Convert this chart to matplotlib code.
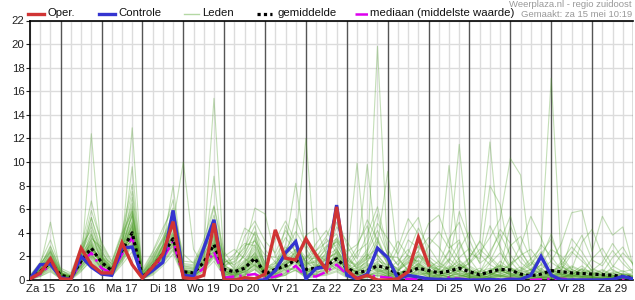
import matplotlib
matplotlib.use('Agg')
import matplotlib.pyplot as plt
from matplotlib.lines import Line2D

plt.rcParams['font.family'] = ['Liberation Sans', 'DejaVu Sans']

# forecast hours since Za 15 00:00, every 6 hours
hours = list(range(6, 361, 6))

day_labels = ['Za 15', 'Zo 16', 'Ma 17', 'Di 18', 'Wo 19', 'Do 20', 'Vr 21', 'Za 22',
              'Zo 23', 'Ma 24', 'Di 25', 'Wo 26', 'Do 27', 'Vr 28', 'Za 29']

# operational run (only 10 days)
oper = [0.1, 0.6, 1.8, 0.1, 0.05, 2.7, 1.3, 0.6, 0.6, 3.15, 1.3, 0.15,
        1.1, 2.2, 4.95, 0.2, 0.1, 0.4, 4.8, 0.0, 0.0, 0.2, 0.1, 0.5,
        4.25, 1.85, 1.7, 3.5, 2.1, 0.85, 6.2, 0.85, 0.1, 0.4, 0.0, 0.0,
        0.1, 0.7, 3.6, 1.27]

# control run
controle = [0.1, 1.3, 1.35, 0.2, 0.05, 2.0, 1.1, 0.5, 0.4, 2.7, 2.8, 0.2,
            0.8, 1.5, 5.9, 0.4, 0.3, 2.7, 5.1, 0.0, 0.0, 0.0, 0.0, 0.0,
            0.8, 2.3, 3.25, 0.1, 1.0, 1.1, 6.35, 0.4, 0.1, 0.5, 2.7, 1.9,
            0.1, 0.4, 0.25, 0.1, 0.05, 0.05, 0.05, 0.0, 0.0, 0.05, 0.0, 0.05,
            0.05, 0.4, 2.0, 0.4, 0.0, 0.0, 0.0, 0.0, 0.0, 0.05, 0.3, 0.1]

gemiddelde = [0.1, 0.7, 1.5, 0.4, 0.2, 1.6, 2.7, 1.5, 0.8, 2.5, 4.0, 0.2,
              1.1, 2.2, 3.5, 0.7, 0.6, 1.5, 3.0, 0.9, 0.7, 1.0, 1.85, 0.5,
              0.9, 1.2, 1.7, 0.9, 1.0, 1.2, 1.8, 1.0, 0.6, 0.8, 1.2, 1.0,
              0.5, 0.7, 1.0, 0.8, 0.6, 0.75, 1.0, 0.7, 0.45, 0.7, 0.9, 0.85,
              0.5, 0.35, 0.5, 0.8, 0.7, 0.6, 0.55, 0.5, 0.45, 0.4, 0.3, 0.2]

mediaan = [0.1, 0.5, 1.3, 0.3, 0.1, 1.5, 2.3, 1.0, 0.6, 2.2, 3.6, 0.2,
           0.9, 1.8, 3.3, 0.3, 0.3, 1.0, 2.4, 0.2, 0.3, 0.4, 0.5, 0.1,
           0.3, 0.6, 1.2, 0.3, 0.3, 0.7, 1.3, 0.5, 0.2, 0.4, 0.3, 0.2,
           0.1, 0.1, 0.1, 0.05, 0.05, 0.2, 0.1, 0.05, 0.0, 0.05, 0.05, 0.1,
           0.05, 0.0, 0.05, 0.1, 0.1, 0.05, 0.0, 0.0, 0.0, 0.05, 0.0, 0.0]

# ensemble members (Leden)
leden = [
    [0.1,0.9,1.8,0.3, 0.1,1.2,12.4,2.0, 0.5,2.2,3.5,0.1, 0.8,2.0,3.0,0.4, 0.3,1.2,2.5,0.6, 0.2,0.8,1.5,0.2, 0.5,0.8,1.0,0.3, 0.6,0.9,1.5,0.4, 0.2,0.3,0.8,0.5, 0.1,0.4,0.9,0.6, 0.2,0.3,0.5,0.2, 0.1,0.4,0.8,0.5, 0.3,0.2,0.1,0.3, 0.6,0.4,0.2,0.1, 0.2,0.3,0.1,0.1],
    [0.2,0.6,1.4,0.5, 0.2,2.0,3.1,1.2, 0.9,3.0,12.9,0.3, 1.5,2.4,3.8,0.8, 0.5,1.8,2.9,0.4, 0.3,0.5,1.1,0.2, 0.1,0.6,1.8,0.7, 0.9,1.4,2.1,0.9, 0.3,0.5,1.2,0.8, 0.2,0.7,1.4,0.5, 0.1,0.9,0.4,0.2, 0.3,0.2,1.1,0.6, 0.4,0.1,0.2,0.5, 1.2,0.6,0.3,0.1, 0.0,0.2,0.4,0.2],
    [0.1,1.2,4.9,0.6, 0.3,1.4,2.8,1.6, 0.7,2.6,9.6,0.2, 0.9,1.8,4.2,0.5, 0.7,1.0,3.4,1.2, 1.5,2.5,6.1,5.6, 2.0,1.1,0.8,0.4, 1.1,2.4,3.0,1.5, 0.5,0.2,0.4,0.3, 0.8,1.5,0.9,0.4, 0.2,0.1,0.3,0.6, 1.0,0.5,0.3,0.2, 0.1,0.4,0.8,0.3, 0.2,0.5,0.9,0.3, 0.1,0.1,0.2,0.3],
    [0.0,0.5,1.1,0.2, 0.1,1.8,2.4,1.0, 0.6,2.9,4.6,0.4, 1.3,2.8,8.0,0.9, 0.4,1.5,3.2,0.7, 0.5,0.9,2.4,0.6, 1.2,1.9,2.6,1.0, 0.7,0.8,1.6,0.6, 1.4,2.2,1.0,0.4, 0.3,0.6,2.1,1.4, 0.8,0.5,1.2,0.9, 0.3,1.4,2.3,1.1, 0.4,0.9,0.5,0.2, 0.6,1.1,0.7,0.4, 0.3,0.6,0.2,0.1],
    [0.3,0.4,0.9,0.1, 0.0,1.0,2.2,0.9, 0.4,1.9,3.8,0.6, 2.1,3.4,4.8,10.0, 2.6,1.2,2.1,0.3, 0.1,0.4,0.9,0.1, 0.6,1.5,2.2,0.5, 0.4,0.6,1.0,0.3, 0.2,0.9,2.6,1.6, 0.9,0.3,0.2,0.1, 0.4,1.6,3.2,1.1, 0.5,0.2,0.6,1.4, 2.0,0.8,0.3,0.1, 0.2,0.4,1.0,0.6, 0.5,0.2,0.1,0.0],
    [0.1,0.7,2.2,0.4, 0.2,1.5,2.6,1.8, 1.0,2.3,5.1,0.1, 0.6,2.5,3.1,0.5, 0.8,2.6,15.4,1.3, 0.6,0.3,1.8,0.9, 1.6,2.8,2.0,1.2, 2.2,1.6,0.9,0.6, 0.4,0.6,0.3,0.2, 0.1,0.2,0.6,0.5, 0.9,1.8,1.0,0.3, 0.2,0.6,0.3,0.2, 0.7,1.3,2.4,0.9, 0.5,0.3,0.2,0.4, 0.8,0.4,0.2,0.1],
    [0.2,1.0,1.6,0.3, 0.4,2.4,4.0,1.4, 0.8,3.3,6.0,0.3, 1.0,1.6,3.9,0.6, 0.9,2.0,8.8,0.8, 0.3,1.4,2.6,0.4, 0.2,0.4,1.3,1.9, 1.8,0.7,2.5,1.2, 0.6,1.3,0.7,0.9, 1.6,2.6,1.2,0.5, 0.3,0.5,0.9,0.4, 0.1,0.3,0.5,0.8, 0.6,0.3,0.1,0.5, 1.4,0.7,0.5,0.3, 0.1,0.2,0.4,0.6],
    [0.1,0.8,1.3,0.5, 0.3,1.9,5.3,2.2, 0.6,2.1,4.4,0.2, 1.1,2.2,2.8,0.7, 0.6,1.6,2.7,0.5, 0.4,0.7,1.2,0.3, 0.8,2.1,3.5,12.0, 1.3,0.9,1.8,1.1, 0.7,0.4,0.6,0.3, 0.2,0.5,1.1,0.7, 0.4,0.3,0.8,0.5, 0.2,0.1,0.4,0.3, 0.2,0.6,1.0,0.4, 0.3,0.2,0.5,0.8, 0.4,0.1,0.3,0.2],
    [0.2,0.6,2.0,0.7, 0.1,1.6,3.3,1.1, 0.5,2.8,5.5,0.3, 1.4,2.6,4.5,0.9, 0.2,1.1,3.8,1.0, 0.8,1.2,2.0,0.7, 1.0,3.0,8.2,2.3, 0.9,1.3,2.8,0.7, 0.4,0.8,1.5,0.6, 0.3,1.2,0.8,0.2, 0.5,0.2,0.1,0.4, 0.8,0.5,1.6,0.9, 0.3,0.2,0.6,0.9, 0.4,0.2,0.1,0.3, 0.5,0.9,0.4,0.2],
    [0.1,0.5,1.5,0.4, 0.2,1.3,2.1,1.3, 0.7,2.0,3.6,0.2, 0.7,1.9,3.4,0.6, 0.4,0.9,2.2,0.8, 0.6,1.6,2.2,0.4, 0.3,1.0,1.6,0.8, 1.2,2.0,3.6,1.5, 9.9,1.2,0.8,0.3, 0.6,0.9,2.0,1.3, 0.7,0.4,0.2,0.6, 0.3,0.8,1.2,0.5, 0.2,0.1,0.4,0.6, 0.9,0.5,0.3,0.2, 0.1,0.3,0.5,0.4],
    [0.3,0.8,1.7,0.2, 0.1,1.7,2.9,1.5, 0.9,2.5,4.2,0.1, 1.2,2.3,3.7,0.4, 0.5,1.4,3.0,1.1, 0.9,0.6,1.4,0.5, 0.7,1.3,2.4,1.6, 0.8,1.9,2.2,0.9, 2.1,9.8,1.9,0.7, 0.5,0.3,0.9,0.8, 0.6,1.1,0.7,0.3, 0.4,0.2,0.3,0.7, 1.1,0.6,0.2,0.1, 0.3,0.8,0.6,0.2, 0.2,0.4,0.3,0.1],
    [0.0,0.4,1.2,0.3, 0.2,1.1,2.5,1.7, 0.6,2.4,3.9,0.4, 1.0,2.0,3.3,0.8, 0.7,1.3,2.6,0.9, 0.4,1.0,1.6,0.6, 0.5,0.9,1.9,0.6, 1.0,1.7,2.4,1.2, 0.6,1.9,19.8,2.1, 0.4,0.6,1.3,0.9, 0.3,0.7,1.4,0.8, 0.5,0.6,0.9,0.4, 0.2,0.3,0.2,0.4, 0.7,0.4,0.3,0.5, 0.3,0.1,0.2,0.1],
    [0.2,0.9,1.9,0.5, 0.3,1.4,2.7,1.2, 0.8,2.2,4.8,0.2, 0.9,2.7,3.6,0.7, 0.6,1.9,3.5,0.6, 0.5,1.1,2.0,0.4, 0.9,1.4,1.7,0.5, 0.5,1.2,2.0,0.8, 1.0,1.5,3.0,9.2, 1.8,0.8,0.4,0.6, 1.2,0.9,0.5,0.2, 0.1,0.4,0.7,1.0, 0.5,0.3,0.8,0.4, 0.2,0.6,1.2,0.5, 0.4,0.2,0.1,0.2],
    [0.1,0.6,1.6,0.4, 0.2,1.5,2.3,1.6, 0.7,2.7,3.3,0.3, 1.1,2.1,3.2,0.5, 0.3,1.7,2.4,0.7, 0.6,0.8,1.7,0.5, 0.4,1.2,2.1,0.9, 1.3,0.8,1.4,0.7, 0.8,1.4,1.1,0.5, 0.7,1.8,1.6,1.0, 1.6,9.7,1.4,0.6, 0.3,0.9,0.6,0.3, 0.8,1.5,0.7,0.3, 0.2,0.3,0.6,0.9, 0.6,0.4,0.2,0.1],
    [0.2,0.7,1.4,0.6, 0.1,1.8,3.0,1.4, 1.1,2.9,4.5,0.4, 1.3,2.4,3.5,0.7, 0.5,1.2,3.1,1.0, 0.7,1.3,2.3,0.7, 0.6,1.7,1.5,0.7, 1.0,1.5,1.9,1.0, 0.7,1.0,1.6,1.3, 0.5,1.0,2.2,1.5, 0.9,2.4,11.5,1.8, 0.6,0.4,1.0,0.6, 0.3,0.7,1.3,0.5, 0.4,0.9,0.5,0.3, 0.2,0.5,0.8,0.3],
    [0.1,0.5,1.3,0.3, 0.2,1.6,2.6,1.3, 0.6,2.2,4.1,0.2, 0.8,2.0,3.1,0.6, 0.6,1.4,2.8,0.8, 0.3,0.9,1.9,0.3, 0.7,1.1,1.4,0.6, 0.9,1.0,1.7,0.9, 0.6,0.8,1.4,1.0, 0.4,0.9,1.7,1.2, 0.6,0.5,1.1,1.9, 3.2,11.7,2.5,0.9, 0.4,0.6,0.3,0.2, 0.5,0.3,0.7,0.4, 0.3,0.6,0.4,0.2],
    [0.3,1.1,2.3,0.5, 0.2,2.2,3.4,1.9, 1.2,3.1,4.9,0.3, 1.6,2.9,4.0,0.9, 0.7,2.2,3.6,1.2, 0.8,1.5,2.8,0.8, 1.1,1.8,2.3,1.1, 1.4,2.1,2.6,1.3, 0.8,1.1,0.9,0.5, 0.3,0.7,1.0,0.6, 0.4,0.8,1.9,2.7, 1.5,8.0,6.4,1.6, 0.6,0.3,0.5,0.8, 1.1,0.6,0.4,0.2, 0.1,0.3,0.6,0.4],
    [0.2,0.8,1.5,0.4, 0.3,1.2,2.0,1.1, 0.5,1.8,3.1,0.2, 0.9,1.7,2.9,0.5, 0.4,1.1,2.3,0.6, 0.5,0.7,1.3,0.4, 0.8,1.6,1.8,0.5, 0.7,1.4,1.9,0.8, 0.5,0.9,1.3,0.7, 0.6,0.4,0.8,0.5, 0.7,1.2,0.9,1.4, 2.3,3.6,5.2,10.3, 8.9,1.6,0.7,0.3, 0.2,0.5,0.9,0.6, 0.4,0.2,0.3,0.1],
    [0.1,0.6,1.7,0.5, 0.1,1.4,2.8,1.5, 0.8,2.6,3.7,0.3, 1.0,2.3,3.3,0.6, 0.5,1.6,2.9,0.7, 0.4,1.0,1.8,0.5, 0.6,1.2,1.9,0.8, 1.1,1.3,1.6,0.7, 0.4,0.7,1.0,0.6, 0.3,0.5,1.2,0.8, 0.5,0.3,0.6,0.4, 0.7,1.0,0.8,0.5, 0.9,1.8,2.7,17.1, 1.2,0.6,0.4,0.3, 0.2,0.4,0.3,0.2],
    [0.2,0.9,2.1,0.6, 0.2,1.7,3.2,1.8, 0.9,2.8,4.3,0.4, 1.2,2.5,3.9,0.8, 0.6,1.8,3.3,0.9, 0.7,1.2,2.1,0.6, 0.9,1.5,2.0,0.9, 1.0,1.8,2.3,1.0, 0.7,1.2,1.8,0.9, 0.5,0.8,1.4,0.9, 0.6,0.9,1.3,0.8, 0.5,0.7,1.2,1.0, 0.8,0.5,0.9,1.6, 3.1,5.7,5.9,2.4, 5.4,3.8,4.5,1.2],
    [0.0,0.3,0.8,0.1, 0.0,0.7,1.8,0.6, 0.3,1.5,2.9,0.1, 0.5,1.4,2.5,0.3, 0.2,0.8,1.9,0.3, 0.1,0.2,0.6,0.1, 0.2,0.4,0.9,0.2, 0.3,0.5,0.8,0.3, 0.1,0.2,0.5,0.2, 0.1,0.1,0.3,0.2, 0.0,0.1,0.2,0.1, 0.0,0.1,0.3,0.2, 0.1,0.0,0.1,0.2, 0.3,0.1,0.0,0.1, 0.0,0.1,0.0,0.0],
    [0.4,1.3,2.6,0.8, 0.5,2.5,4.5,2.3, 1.3,3.4,6.2,0.5, 1.8,3.2,4.6,1.0, 1.0,2.4,4.2,1.4, 2.2,3.1,2.9,1.1, 1.4,2.6,3.1,1.5, 2.5,3.2,3.9,1.7, 1.3,2.0,2.7,1.4, 1.0,1.9,2.4,1.2, 0.9,0.6,0.4,0.3, 0.2,0.4,0.9,1.2, 2.1,2.6,1.4,0.7, 0.5,0.3,0.2,0.5, 0.9,0.4,0.2,0.3],
    [0.1,0.4,1.0,0.2, 0.1,1.0,1.9,0.8, 0.4,1.6,3.0,0.1, 0.6,1.5,2.6,0.4, 0.3,0.9,2.0,0.4, 0.2,0.5,1.0,0.2, 0.3,0.6,1.1,0.3, 0.4,0.7,1.1,0.4, 0.2,0.3,0.6,0.3, 0.1,0.3,0.5,0.3, 0.1,0.2,0.4,0.2, 0.1,0.2,0.4,0.3, 0.2,0.1,0.2,0.3, 0.4,0.2,0.1,0.1, 0.1,0.2,0.1,0.1],
    [0.2,1.1,2.8,0.9, 0.3,2.7,6.7,3.0, 1.5,3.8,7.5,0.6, 2.0,3.6,5.6,1.2, 1.1,2.9,5.0,1.6, 1.3,2.0,3.4,0.9, 0.5,1.1,2.6,1.3, 1.7,2.6,4.9,2.0, 0.9,1.6,3.3,1.7, 0.8,1.4,2.9,1.6, 1.1,2.5,1.2,0.5, 0.3,0.6,0.4,0.2, 0.1,0.3,0.2,0.1, 0.2,0.4,0.3,0.2, 0.1,0.1,0.2,0.1],
    [0.1,0.5,1.2,0.2, 0.2,1.2,2.2,1.0, 0.5,1.8,3.4,0.2, 0.8,1.9,3.0,0.5, 0.4,1.0,2.4,0.5, 0.4,0.6,1.3,0.3, 0.4,0.7,1.2,0.4, 0.5,0.8,1.3,0.5, 0.3,0.5,0.9,0.4, 0.2,0.4,0.7,0.4, 0.2,0.3,0.6,0.3, 0.2,0.3,0.5,0.4, 0.3,0.2,0.3,0.4, 0.5,0.3,0.2,0.1, 0.1,0.2,0.2,0.1],
    [0.3,1.4,2.4,0.6, 0.4,2.1,5.3,2.6, 1.0,3.6,6.5,0.4, 1.7,3.0,5.2,1.1, 0.9,2.3,4.7,1.5, 1.8,2.7,4.6,1.2, 0.8,1.9,3.3,1.4, 1.5,2.8,3.2,1.3, 1.1,2.4,4.2,2.2, 1.3,2.1,1.5,0.7, 0.4,0.3,0.8,1.5, 2.6,1.8,0.9,0.4, 0.2,0.1,0.3,0.6, 0.8,0.5,0.3,0.2, 0.4,0.7,0.5,0.3],
    [0.2,0.8,1.9,0.4, 0.2,1.6,3.0,1.4, 0.7,2.4,4.0,0.2, 1.1,2.2,3.6,0.6, 0.5,1.5,3.1,0.8, 0.6,1.1,1.9,0.4, 0.7,1.3,2.0,0.7, 0.9,1.4,2.0,0.8, 0.5,0.9,1.3,0.6, 0.4,0.8,1.1,0.5, 0.3,0.5,0.8,0.4, 0.3,0.5,0.7,0.5, 0.4,0.3,0.4,0.5, 0.6,0.4,0.3,0.2, 0.2,0.3,0.2,0.1],
    [0.1,0.6,1.1,0.3, 0.1,0.9,2.0,0.9, 0.4,1.7,3.2,0.2, 0.7,1.6,2.7,0.4, 0.3,1.0,2.1,0.5, 0.3,0.7,3.6,0.6, 0.8,4.6,2.2,0.5, 0.4,0.6,1.2,0.4, 0.2,0.4,0.7,0.3, 0.2,0.3,0.6,0.3, 0.1,0.2,0.3,0.2, 0.1,0.2,0.4,0.2, 0.1,0.1,0.2,0.2, 0.2,0.1,0.1,0.0, 0.0,0.1,0.1,0.0],
    [0.4,1.5,3.4,1.0, 0.6,2.9,4.2,2.0, 1.4,3.9,5.8,0.7, 2.3,4.0,6.8,1.3, 1.2,2.6,5.5,1.8, 1.0,2.2,4.0,1.0, 1.2,2.3,2.9,1.2, 1.6,2.2,3.4,1.6, 1.2,1.8,2.1,1.1, 0.9,1.6,2.0,1.1, 0.7,1.0,1.6,0.8, 0.5,0.8,1.3,0.9, 0.6,0.9,0.6,0.4, 0.7,1.2,0.8,0.5, 0.6,0.3,0.2,0.1],
    [0.1,0.3,0.7,0.1, 0.1,0.8,1.6,0.7, 0.3,1.3,2.4,0.1, 0.4,1.2,2.2,0.3, 0.2,0.7,1.6,0.3, 0.2,0.4,0.9,0.2, 0.2,0.5,0.8,0.2, 0.3,0.4,0.7,0.2, 0.1,0.2,0.4,0.2, 0.1,0.2,0.3,0.1, 0.1,0.1,0.2,0.1, 0.0,0.1,0.2,0.1, 0.1,0.0,0.1,0.1, 0.2,0.1,0.0,0.0, 0.0,0.0,0.1,0.0],
    [0.2,1.0,2.5,0.7, 0.3,2.0,3.8,1.9, 1.1,3.2,5.4,0.4, 1.5,2.8,4.4,1.0, 0.8,2.0,3.9,1.3, 1.6,2.9,3.3,2.1, 1.9,3.6,2.4,1.8, 3.1,4.2,2.6,1.4, 2.8,5.1,3.4,1.2, 0.7,2.3,4.4,2.8, 1.5,0.9,2.6,4.1, 2.2,1.3,0.8,2.9, 3.7,1.8,0.9,0.5, 1.6,2.8,1.9,0.7, 0.4,1.1,2.3,1.4],
    [0.1,0.7,1.6,0.3, 0.2,1.5,3.6,2.5, 0.8,2.5,5.6,0.5, 1.9,3.3,5.0,1.4, 1.3,3.1,4.4,2.0, 2.6,1.8,1.2,0.8, 1.4,2.5,4.1,2.7, 1.1,1.9,4.5,3.3, 1.8,3.9,6.2,2.6, 1.2,3.4,2.7,4.8, 5.5,3.1,1.7,0.9, 0.6,2.4,3.9,2.1, 1.0,0.5,1.3,2.6, 2.0,0.9,3.2,4.3, 2.1,0.8,0.5,0.3],
    [0.3,1.2,2.9,0.8, 0.4,2.3,5.9,3.2, 1.6,4.1,8.1,0.9, 2.4,4.4,6.1,1.6, 1.5,3.4,6.3,2.4, 1.1,3.7,5.0,3.3, 2.3,4.2,3.0,1.9, 2.5,3.7,5.6,2.9, 1.4,2.6,4.8,3.5, 2.2,4.1,5.3,2.0, 1.3,3.5,4.9,2.3, 1.8,4.6,2.8,1.2, 2.9,5.4,3.6,1.5, 0.9,2.2,3.8,1.7, 1.2,2.5,1.4,0.6],
    [0.2,0.9,2.4,0.6, 0.3,1.9,4.8,2.0, 1.0,3.1,7.0,0.6, 1.6,3.5,5.3,1.2, 1.0,2.5,6.2,1.9, 0.9,1.7,3.0,1.5, 3.4,5.0,3.2,1.4, 2.0,2.9,3.5,2.4, 3.0,4.6,2.1,1.0, 2.7,5.2,3.9,1.8, 0.8,1.7,5.8,3.4, 1.4,2.1,4.3,3.1, 1.5,0.8,2.2,3.5, 1.6,0.9,0.6,1.8, 2.7,1.2,0.7,0.9],
    [0.1,0.6,1.9,0.5, 0.2,1.6,3.9,1.7, 0.9,2.7,5.8,0.3, 1.3,2.9,4.7,0.9, 0.7,2.1,4.1,1.1, 2.0,4.4,3.8,1.3, 0.9,2.0,5.2,3.0, 1.8,3.5,2.3,1.1, 2.4,3.1,5.6,2.0, 1.9,0.8,2.5,3.6, 2.8,1.5,0.7,1.9, 3.3,2.0,1.1,4.6, 2.4,1.2,3.0,2.0, 0.8,3.5,2.4,1.0, 0.6,1.9,2.8,1.3],
    [0.3,1.1,2.0,0.4, 0.1,1.3,3.5,2.8, 1.3,2.2,4.7,0.4, 1.0,3.0,5.9,2.2, 1.4,2.8,3.7,1.0, 0.6,2.3,4.1,2.6, 1.5,0.8,1.9,3.8, 4.4,2.2,3.3,2.1, 1.0,2.0,3.6,1.5, 3.3,2.0,1.1,2.9, 4.1,2.7,3.4,1.2, 0.7,1.6,3.3,5.4, 2.6,0.9,1.8,3.9, 1.3,2.4,1.6,0.8, 1.5,3.1,1.8,0.7],
]

RED = '#d03434'
BLUE = '#3434d0'
MAGENTA = '#dd00ee'
MEMBER_GREEN = '#4c9e26'

fig = plt.figure(figsize=(6.35, 3.0), dpi=100)
ax = fig.add_axes([30 / 635, 20 / 300, 603 / 635, 259.5 / 300])

# grid: light every 6 hours, dark at midnight
for h in range(6, 361, 6):
    if h % 24 == 0:
        ax.axvline(h, color='#555555', lw=1.0, zorder=1)
    else:
        ax.axvline(h, color='#dcdcdc', lw=1.0, zorder=0)
for v in range(2, 23, 2):
    ax.axhline(v, color='#dcdcdc', lw=1.0, zorder=0)

for m in leden:
    ax.plot(hours, m, color=MEMBER_GREEN, lw=0.8, alpha=0.33, zorder=2)

ax.plot(hours, mediaan, color=MAGENTA, lw=1.8, linestyle=(0, (5, 2, 1, 2)), zorder=3)
ax.plot(hours, gemiddelde, color='black', lw=2.3, linestyle=(0, (1, 1)), zorder=4)
ax.plot(hours, controle, color=BLUE, lw=2.4, zorder=5, solid_joinstyle='miter')
ax.plot(hours[:len(oper)], oper, color=RED, lw=2.4, zorder=6, solid_joinstyle='miter')

ax.set_xlim(6, 360)
ax.set_ylim(0, 22)
ax.set_yticks(range(0, 23, 2))
ax.set_xticks([12 + 24 * i for i in range(len(day_labels))])
ax.set_xticklabels(day_labels)
ax.tick_params(axis='y', length=3, width=0.8, pad=1, labelsize=8.2, colors='#222222')
ax.tick_params(axis='x', length=0, pad=3, labelsize=8.2, colors='#222222')
for side in ['left', 'bottom', 'top']:
    ax.spines[side].set_color('black')
    ax.spines[side].set_linewidth(1.2)
ax.spines['right'].set_visible(False)

# legend row on top of the plot
def legend_item(x0, x1, text_x, label, **style):
    y = 1 - 13.5 / 300
    fig.add_artist(Line2D([x0 / 635, x1 / 635], [y, y], transform=fig.transFigure, **style))
    fig.text(text_x / 635, y, label, ha='left', va='center', fontsize=8.2, color='#111111')

legend_item(28, 44, 47, 'Oper.', color=RED, lw=2.4)
legend_item(99, 115, 118, 'Controle', color=BLUE, lw=2.4)
legend_item(184, 199, 202, 'Leden', color='#b4d8a4', lw=1.0)
legend_item(257, 272, 277, 'gemiddelde', color='black', lw=2.3, linestyle=(0, (1, 1)))
legend_item(355, 368, 370, 'mediaan (middelste waarde)', color=MAGENTA, lw=1.8, linestyle=(0, (5, 2, 1, 2)))

fig.text(632 / 635, 1 - 4.5 / 300, 'Weerplaza.nl - regio zuidoost', ha='right', va='center',
         fontsize=6.8, color='#999999')
fig.text(632 / 635, 1 - 14.5 / 300, 'Gemaakt: za 15 mei 10:19', ha='right', va='center',
         fontsize=6.8, color='#999999')

fig.savefig('out.png', dpi=100)
